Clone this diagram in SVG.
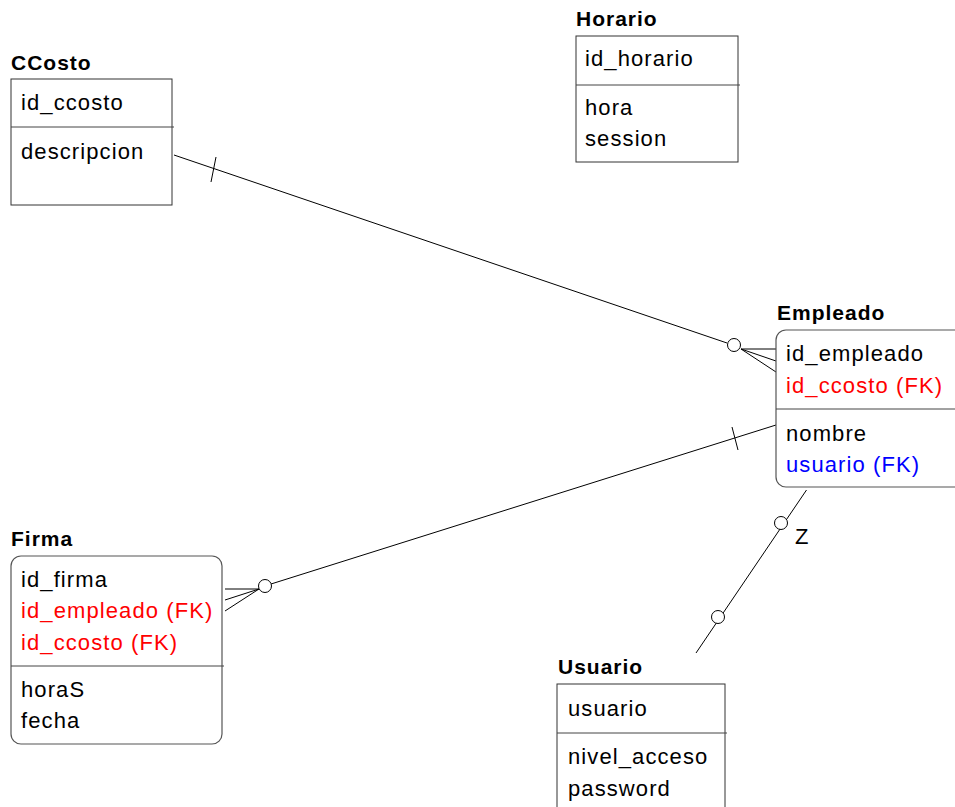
<svg xmlns="http://www.w3.org/2000/svg" width="955" height="807" viewBox="0 0 955 807">
  <style>
    .box { fill: #ffffff; stroke: #333333; stroke-width: 1; }
    .rbox { fill: #ffffff; stroke: #555555; stroke-width: 1.2; }
    .div { stroke: #444444; stroke-width: 1; }
    .title { font-family: "Liberation Sans", Arial, sans-serif; font-size: 21px; font-weight: bold; letter-spacing: 1px; fill: #000000; }
    .attr { font-family: "Liberation Sans", Arial, sans-serif; font-size: 22px; letter-spacing: 1.1px; fill: #000000; }
    .fk { fill: #ff0000; }
    .fku { fill: #0000ff; }
    .rel { stroke: #000000; stroke-width: 1; fill: none; }
    .opt { stroke: #000000; stroke-width: 1; fill: #ffffff; }
  </style>

  <!-- relationship lines -->
  <g id="connectors">
    <!-- CCosto (one) to Empleado (zero or many) -->
    <line class="rel" x1="174" y1="155" x2="727" y2="343"/>
    <line class="rel" x1="216" y1="157" x2="211" y2="182"/>
    <circle class="opt" cx="734" cy="345" r="6.5"/>
    <line class="rel" x1="741" y1="349" x2="776" y2="349"/>
    <line class="rel" x1="741" y1="349" x2="776" y2="361"/>
    <line class="rel" x1="741" y1="349" x2="776" y2="372"/>

    <!-- Empleado (one) to Firma (zero or many) -->
    <line class="rel" x1="776" y1="425" x2="271" y2="584"/>
    <line class="rel" x1="732" y1="427" x2="738" y2="450"/>
    <circle class="opt" cx="265" cy="586" r="6.5"/>
    <line class="rel" x1="259" y1="589" x2="225" y2="589"/>
    <line class="rel" x1="259" y1="589" x2="225" y2="600"/>
    <line class="rel" x1="259" y1="589" x2="225" y2="611"/>

    <!-- Empleado to Usuario (zero or one at each end) -->
    <line class="rel" x1="806.5" y1="490" x2="696" y2="653"/>
    <circle class="opt" cx="781" cy="523" r="6.5"/>
    <circle class="opt" cx="718" cy="617" r="6.5"/>
    <text class="attr" x="795" y="544">Z</text>
  </g>

  <!-- CCosto -->
  <g id="ccosto">
    <text class="title" x="11" y="70">CCosto</text>
    <rect class="box" x="11" y="79" width="161" height="126"/>
    <line class="div" x1="11" y1="127" x2="174" y2="127"/>
    <text class="attr" x="21" y="110">id_ccosto</text>
    <text class="attr" x="21" y="159">descripcion</text>
  </g>

  <!-- Horario -->
  <g id="horario">
    <text class="title" x="576" y="26">Horario</text>
    <rect class="box" x="576" y="36" width="162" height="126"/>
    <line class="div" x1="576" y1="85" x2="740" y2="85"/>
    <text class="attr" x="585" y="66">id_horario</text>
    <text class="attr" x="585" y="115">hora</text>
    <text class="attr" x="585" y="146">session</text>
  </g>

  <!-- Empleado -->
  <g id="empleado">
    <text class="title" x="777" y="320">Empleado</text>
    <rect class="rbox" x="776" y="330" width="195" height="157" rx="10" ry="10"/>
    <line class="div" x1="776" y1="409" x2="955" y2="409"/>
    <text class="attr" x="786" y="361">id_empleado</text>
    <text class="attr fk" x="786" y="393">id_ccosto (FK)</text>
    <text class="attr" x="786" y="441">nombre</text>
    <text class="attr fku" x="786" y="472">usuario (FK)</text>
  </g>

  <!-- Firma -->
  <g id="firma">
    <text class="title" x="11" y="546">Firma</text>
    <rect class="rbox" x="11" y="556" width="211" height="188" rx="10" ry="10"/>
    <line class="div" x1="11" y1="666" x2="224" y2="666"/>
    <text class="attr" x="21" y="587">id_firma</text>
    <text class="attr fk" x="21" y="618">id_empleado (FK)</text>
    <text class="attr fk" x="21" y="650">id_ccosto (FK)</text>
    <text class="attr" x="21" y="697">horaS</text>
    <text class="attr" x="21" y="728">fecha</text>
  </g>

  <!-- Usuario -->
  <g id="usuario">
    <text class="title" x="558" y="674">Usuario</text>
    <rect class="box" x="557" y="684" width="168" height="140"/>
    <line class="div" x1="557" y1="733" x2="727" y2="733"/>
    <text class="attr" x="568" y="716">usuario</text>
    <text class="attr" x="568" y="764">nivel_acceso</text>
    <text class="attr" x="568" y="796">password</text>
  </g>
</svg>
